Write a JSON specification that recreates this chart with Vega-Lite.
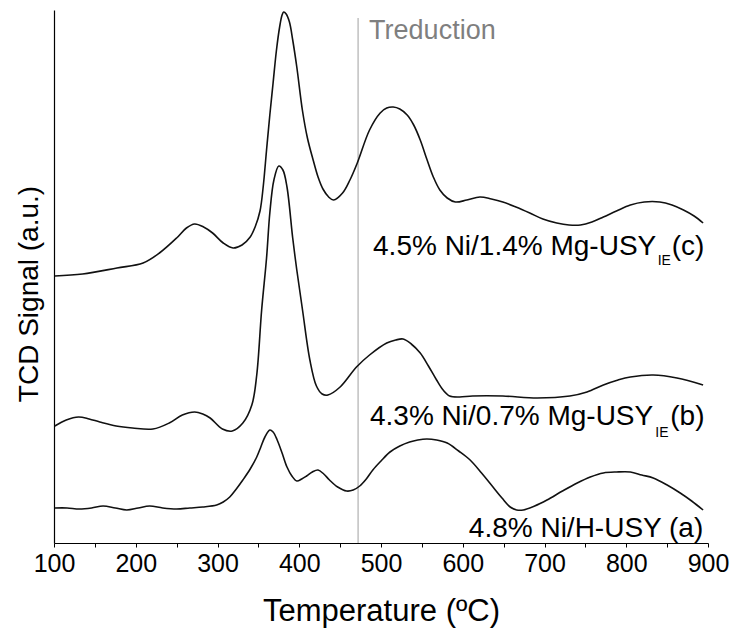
{
  "$schema": "https://vega.github.io/schema/vega-lite/v6.json",
  "width": 654,
  "height": 533,
  "autosize": {"type": "none"},
  "padding": {"left": 54, "top": 10, "right": 29, "bottom": 89},
  "background": "white",
  "config": {"view": {"stroke": null}, "font": "Liberation Sans"},
  "datasets": {
    "tpr": [
      {"s": "c", "T": 101, "v": 267}, {"s": "c", "T": 135, "v": 269}, {"s": "c", "T": 177, "v": 275},
      {"s": "c", "T": 209, "v": 280}, {"s": "c", "T": 229, "v": 290}, {"s": "c", "T": 250, "v": 305},
      {"s": "c", "T": 262, "v": 315}, {"s": "c", "T": 272, "v": 319}, {"s": "c", "T": 283, "v": 316},
      {"s": "c", "T": 294, "v": 310}, {"s": "c", "T": 307, "v": 300}, {"s": "c", "T": 319, "v": 295},
      {"s": "c", "T": 330, "v": 298}, {"s": "c", "T": 340, "v": 306}, {"s": "c", "T": 346, "v": 316},
      {"s": "c", "T": 352, "v": 332}, {"s": "c", "T": 356, "v": 357}, {"s": "c", "T": 360, "v": 393},
      {"s": "c", "T": 364, "v": 428}, {"s": "c", "T": 368, "v": 460}, {"s": "c", "T": 372, "v": 492},
      {"s": "c", "T": 376, "v": 516}, {"s": "c", "T": 379, "v": 528}, {"s": "c", "T": 381, "v": 531},
      {"s": "c", "T": 384, "v": 529}, {"s": "c", "T": 388, "v": 521}, {"s": "c", "T": 392, "v": 503},
      {"s": "c", "T": 397, "v": 476}, {"s": "c", "T": 404, "v": 432}, {"s": "c", "T": 410, "v": 405},
      {"s": "c", "T": 417, "v": 383}, {"s": "c", "T": 423, "v": 366}, {"s": "c", "T": 429, "v": 354},
      {"s": "c", "T": 436, "v": 346}, {"s": "c", "T": 442, "v": 343}, {"s": "c", "T": 453, "v": 350},
      {"s": "c", "T": 462, "v": 363}, {"s": "c", "T": 471, "v": 380}, {"s": "c", "T": 486, "v": 413},
      {"s": "c", "T": 499, "v": 430}, {"s": "c", "T": 507, "v": 435}, {"s": "c", "T": 515, "v": 436},
      {"s": "c", "T": 523, "v": 434}, {"s": "c", "T": 532, "v": 428}, {"s": "c", "T": 540, "v": 418},
      {"s": "c", "T": 548, "v": 403}, {"s": "c", "T": 556, "v": 384}, {"s": "c", "T": 564, "v": 366},
      {"s": "c", "T": 572, "v": 353}, {"s": "c", "T": 581, "v": 345}, {"s": "c", "T": 591, "v": 341},
      {"s": "c", "T": 605, "v": 343}, {"s": "c", "T": 621, "v": 346}, {"s": "c", "T": 635, "v": 344},
      {"s": "c", "T": 649, "v": 341}, {"s": "c", "T": 665, "v": 336}, {"s": "c", "T": 682, "v": 330},
      {"s": "c", "T": 698, "v": 324}, {"s": "c", "T": 715, "v": 320}, {"s": "c", "T": 730, "v": 318},
      {"s": "c", "T": 744, "v": 318}, {"s": "c", "T": 758, "v": 321}, {"s": "c", "T": 772, "v": 326},
      {"s": "c", "T": 788, "v": 332}, {"s": "c", "T": 805, "v": 338}, {"s": "c", "T": 822, "v": 341},
      {"s": "c", "T": 841, "v": 341}, {"s": "c", "T": 856, "v": 338}, {"s": "c", "T": 870, "v": 333},
      {"s": "c", "T": 883, "v": 327}, {"s": "c", "T": 894, "v": 320},

      {"s": "b", "T": 101, "v": 117}, {"s": "b", "T": 115, "v": 123}, {"s": "b", "T": 130, "v": 126},
      {"s": "b", "T": 143, "v": 124}, {"s": "b", "T": 156, "v": 121}, {"s": "b", "T": 176, "v": 117},
      {"s": "b", "T": 196, "v": 115}, {"s": "b", "T": 221, "v": 114}, {"s": "b", "T": 241, "v": 120},
      {"s": "b", "T": 257, "v": 128}, {"s": "b", "T": 272, "v": 131}, {"s": "b", "T": 282, "v": 129},
      {"s": "b", "T": 291, "v": 125}, {"s": "b", "T": 306, "v": 114}, {"s": "b", "T": 318, "v": 112},
      {"s": "b", "T": 331, "v": 120}, {"s": "b", "T": 342, "v": 138}, {"s": "b", "T": 348, "v": 168},
      {"s": "b", "T": 354, "v": 233}, {"s": "b", "T": 360, "v": 285}, {"s": "b", "T": 364, "v": 330},
      {"s": "b", "T": 369, "v": 363}, {"s": "b", "T": 375, "v": 377}, {"s": "b", "T": 380, "v": 373},
      {"s": "b", "T": 385, "v": 356}, {"s": "b", "T": 392, "v": 305}, {"s": "b", "T": 397, "v": 273},
      {"s": "b", "T": 404, "v": 233}, {"s": "b", "T": 413, "v": 183}, {"s": "b", "T": 421, "v": 157},
      {"s": "b", "T": 428, "v": 149}, {"s": "b", "T": 435, "v": 148}, {"s": "b", "T": 450, "v": 156},
      {"s": "b", "T": 470, "v": 176}, {"s": "b", "T": 486, "v": 188}, {"s": "b", "T": 507, "v": 200},
      {"s": "b", "T": 518, "v": 203}, {"s": "b", "T": 527, "v": 204}, {"s": "b", "T": 537, "v": 199},
      {"s": "b", "T": 548, "v": 190}, {"s": "b", "T": 558, "v": 177}, {"s": "b", "T": 568, "v": 163},
      {"s": "b", "T": 576, "v": 153}, {"s": "b", "T": 584, "v": 147}, {"s": "b", "T": 596, "v": 146},
      {"s": "b", "T": 612, "v": 147}, {"s": "b", "T": 649, "v": 147}, {"s": "b", "T": 691, "v": 145},
      {"s": "b", "T": 731, "v": 147}, {"s": "b", "T": 752, "v": 151}, {"s": "b", "T": 772, "v": 158},
      {"s": "b", "T": 790, "v": 163}, {"s": "b", "T": 805, "v": 166}, {"s": "b", "T": 833, "v": 168},
      {"s": "b", "T": 862, "v": 165}, {"s": "b", "T": 894, "v": 158},

      {"s": "a", "T": 101, "v": 35}, {"s": "a", "T": 116, "v": 35}, {"s": "a", "T": 131, "v": 34},
      {"s": "a", "T": 146, "v": 35}, {"s": "a", "T": 160, "v": 37}, {"s": "a", "T": 175, "v": 35},
      {"s": "a", "T": 189, "v": 33}, {"s": "a", "T": 203, "v": 35}, {"s": "a", "T": 217, "v": 37},
      {"s": "a", "T": 233, "v": 35}, {"s": "a", "T": 250, "v": 34}, {"s": "a", "T": 266, "v": 35},
      {"s": "a", "T": 282, "v": 36}, {"s": "a", "T": 299, "v": 38}, {"s": "a", "T": 307, "v": 41},
      {"s": "a", "T": 315, "v": 46}, {"s": "a", "T": 323, "v": 54}, {"s": "a", "T": 331, "v": 63},
      {"s": "a", "T": 340, "v": 74}, {"s": "a", "T": 348, "v": 86}, {"s": "a", "T": 353, "v": 96},
      {"s": "a", "T": 358, "v": 106}, {"s": "a", "T": 364, "v": 113}, {"s": "a", "T": 368, "v": 111},
      {"s": "a", "T": 373, "v": 103}, {"s": "a", "T": 379, "v": 90}, {"s": "a", "T": 385, "v": 76},
      {"s": "a", "T": 391, "v": 67}, {"s": "a", "T": 397, "v": 62}, {"s": "a", "T": 403, "v": 64},
      {"s": "a", "T": 409, "v": 67}, {"s": "a", "T": 416, "v": 71}, {"s": "a", "T": 423, "v": 73},
      {"s": "a", "T": 430, "v": 69}, {"s": "a", "T": 437, "v": 63}, {"s": "a", "T": 447, "v": 56},
      {"s": "a", "T": 458, "v": 52}, {"s": "a", "T": 466, "v": 53}, {"s": "a", "T": 474, "v": 57},
      {"s": "a", "T": 482, "v": 64}, {"s": "a", "T": 490, "v": 73}, {"s": "a", "T": 500, "v": 82},
      {"s": "a", "T": 511, "v": 91}, {"s": "a", "T": 523, "v": 97}, {"s": "a", "T": 535, "v": 101},
      {"s": "a", "T": 545, "v": 103}, {"s": "a", "T": 556, "v": 104}, {"s": "a", "T": 568, "v": 103},
      {"s": "a", "T": 581, "v": 100}, {"s": "a", "T": 595, "v": 92}, {"s": "a", "T": 609, "v": 83},
      {"s": "a", "T": 623, "v": 70}, {"s": "a", "T": 637, "v": 56}, {"s": "a", "T": 648, "v": 45},
      {"s": "a", "T": 658, "v": 36}, {"s": "a", "T": 666, "v": 33}, {"s": "a", "T": 674, "v": 33},
      {"s": "a", "T": 688, "v": 37}, {"s": "a", "T": 703, "v": 43}, {"s": "a", "T": 722, "v": 52},
      {"s": "a", "T": 740, "v": 60}, {"s": "a", "T": 756, "v": 66}, {"s": "a", "T": 772, "v": 70},
      {"s": "a", "T": 788, "v": 71}, {"s": "a", "T": 805, "v": 71}, {"s": "a", "T": 819, "v": 68},
      {"s": "a", "T": 833, "v": 65}, {"s": "a", "T": 850, "v": 58}, {"s": "a", "T": 866, "v": 50},
      {"s": "a", "T": 880, "v": 42}, {"s": "a", "T": 894, "v": 33}
    ],
    "labels": [
      {"s": "c", "part": "main", "text": "4.5% Ni/1.4% Mg-USY", "T": 836.7, "v": 288},
      {"s": "c", "part": "sub", "text": "IE", "T": 838.5, "v": 278},
      {"s": "c", "part": "tail", "text": "(c)", "T": 855.6, "v": 288},
      {"s": "b", "part": "main", "text": "4.3% Ni/0.7% Mg-USY", "T": 833.0, "v": 118},
      {"s": "b", "part": "sub", "text": "IE", "T": 835.5, "v": 106},
      {"s": "b", "part": "tail", "text": "(b)", "T": 853.8, "v": 118},
      {"s": "a", "part": "main", "text": "4.8% Ni/H-USY (a)", "T": 894.2, "v": 6}
    ],
    "marker": [
      {"name": "Treduction", "T": 472}
    ]
  },
  "layer": [
    {
      "data": {"name": "marker"},
      "mark": {"type": "rule", "color": "#c4c4c4", "strokeWidth": 1.6},
      "encoding": {
        "x": {"field": "T", "type": "quantitative"},
        "y": {"datum": 525, "type": "quantitative"},
        "y2": {"datum": 0}
      }
    },
    {
      "data": {"name": "marker"},
      "mark": {"type": "text", "align": "left", "baseline": "alphabetic", "fontSize": 27, "color": "#7f7f7f", "dx": 11},
      "encoding": {
        "x": {"field": "T", "type": "quantitative"},
        "y": {"datum": 504, "type": "quantitative"},
        "text": {"field": "name"}
      }
    },
    {
      "data": {"name": "tpr"},
      "mark": {"type": "line", "interpolate": "catmull-rom", "color": "#111111", "strokeWidth": 1.6},
      "encoding": {
        "x": {
          "field": "T", "type": "quantitative",
          "scale": {"domain": [100, 900], "nice": false, "zero": false},
          "axis": {
            "title": "Temperature (ºC)",
            "values": [100, 150, 200, 250, 300, 350, 400, 450, 500, 550, 600, 650, 700, 750, 800, 850, 900],
            "format": "d",
            "labelExpr": "datum.value % 100 === 0 ? datum.label : ''",
            "labelFontSize": 25, "labelColor": "black", "labelFlush": false, "labelOverlap": false,
            "labelPadding": 4, "tickSize": 4, "tickColor": "black", "tickWidth": 1,
            "domainColor": "black", "domainWidth": 1.2, "grid": false,
            "titleFontSize": 31, "titleFontWeight": "normal", "titleColor": "black",
            "titleBaseline": "alphabetic", "titleY": 77
          }
        },
        "y": {
          "field": "v", "type": "quantitative",
          "scale": {"domain": [0, 533], "nice": false, "zero": false},
          "axis": {
            "title": "TCD Signal (a.u.)", "labels": false, "ticks": false, "grid": false,
            "domainColor": "black", "domainWidth": 1.2,
            "titleFontSize": 28, "titleFontWeight": "normal", "titleColor": "black",
            "titleBaseline": "alphabetic", "titleX": -17, "titleY": 283.5
          }
        },
        "detail": {"field": "s"}
      }
    },
    {
      "data": {"name": "labels"},
      "transform": [{"filter": "datum.part === 'main'"}],
      "mark": {"type": "text", "align": "right", "baseline": "alphabetic", "fontSize": 28, "color": "black"},
      "encoding": {
        "x": {"field": "T", "type": "quantitative"},
        "y": {"field": "v", "type": "quantitative"},
        "text": {"field": "text"}
      }
    },
    {
      "data": {"name": "labels"},
      "transform": [{"filter": "datum.part === 'sub'"}],
      "mark": {"type": "text", "align": "left", "baseline": "alphabetic", "fontSize": 14, "color": "black"},
      "encoding": {
        "x": {"field": "T", "type": "quantitative"},
        "y": {"field": "v", "type": "quantitative"},
        "text": {"field": "text"}
      }
    },
    {
      "data": {"name": "labels"},
      "transform": [{"filter": "datum.part === 'tail'"}],
      "mark": {"type": "text", "align": "left", "baseline": "alphabetic", "fontSize": 28, "color": "black"},
      "encoding": {
        "x": {"field": "T", "type": "quantitative"},
        "y": {"field": "v", "type": "quantitative"},
        "text": {"field": "text"}
      }
    }
  ]
}
